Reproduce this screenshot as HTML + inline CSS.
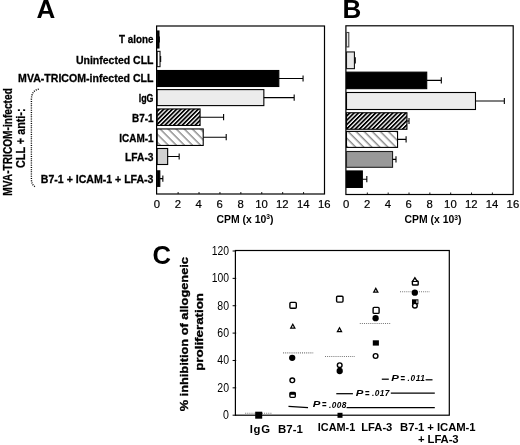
<!DOCTYPE html>
<html><head><meta charset="utf-8"><title>Figure</title>
<style>html,body{margin:0;padding:0;background:#fff;}body{width:520px;height:445px;overflow:hidden;font-family:"Liberation Sans",sans-serif;}svg{display:block;filter:blur(0.35px);}text{font-family:"Liberation Sans",sans-serif;fill:#000;}</style>
</head><body>
<svg width="520" height="445" viewBox="0 0 520 445">
<defs>
<pattern id="h1" width="3.05" height="3.05" patternUnits="userSpaceOnUse" patternTransform="rotate(-45)"><rect width="3.05" height="3.05" fill="#fff"/><rect width="3.05" height="1.75" fill="#000"/></pattern>
<pattern id="h2" width="5.7" height="5.7" patternUnits="userSpaceOnUse" patternTransform="rotate(45)"><rect width="5.7" height="5.7" fill="#fff"/><rect width="5.7" height="1.45" fill="#8c8c8c"/></pattern>
</defs>
<rect width="520" height="445" fill="#fff"/>
<text x="36.4" y="17.8" font-size="26" text-anchor="start" font-weight="bold" font-style="normal" >A</text>
<text x="342.5" y="17.8" font-size="26" text-anchor="start" font-weight="bold" font-style="normal" >B</text>
<text x="152.4" y="263.6" font-size="25.6" text-anchor="start" font-weight="bold" font-style="normal" >C</text>
<rect x="156.6" y="26" width="167.9" height="168" fill="none" stroke="#000" stroke-width="1.2"/>
<rect x="157.2" y="31.0" width="1.78" height="17" fill="#000" stroke="#000" stroke-width="1.1"/>
<path d="M158.98 39.5H159.29M159.29 36.4V42.6" stroke="#000" stroke-width="1.1" fill="none"/>
<rect x="157.2" y="51.35" width="2.82" height="15.3" fill="#fff" stroke="#111" stroke-width="1.1"/>
<path d="M160.02 59H160.65M160.65 55.9V62.1" stroke="#000" stroke-width="1.1" fill="none"/>
<rect x="157.2" y="70.5" width="121.61" height="16" fill="#000" stroke="#000" stroke-width="1.1"/>
<path d="M278.81 78.5H303.06M303.06 75.4V81.6" stroke="#000" stroke-width="1.1" fill="none"/>
<rect x="157.2" y="89.6" width="106.65" height="16" fill="#ececec" stroke="#000" stroke-width="1.1"/>
<path d="M263.85 97.6H294.18M294.18 94.5V100.69999999999999" stroke="#000" stroke-width="1.1" fill="none"/>
<rect x="157.2" y="108.95" width="42.87" height="16.5" fill="url(#h1)" stroke="#000" stroke-width="1.1"/>
<path d="M200.07 117.2H223.60M223.60 114.10000000000001V120.3" stroke="#000" stroke-width="1.1" fill="none"/>
<rect x="157.2" y="128.95" width="46.01" height="16.5" fill="url(#h2)" stroke="#000" stroke-width="1.1"/>
<path d="M203.21 137.2H226.21M226.21 134.1V140.29999999999998" stroke="#000" stroke-width="1.1" fill="none"/>
<rect x="157.2" y="148.5" width="10.46" height="16" fill="#d2d2d2" stroke="#000" stroke-width="1.1"/>
<path d="M167.66 156.5H179.16M179.16 153.4V159.6" stroke="#000" stroke-width="1.1" fill="none"/>
<rect x="157.2" y="170.85" width="2.61" height="15.5" fill="#000" stroke="#000" stroke-width="1.1"/>
<path d="M159.81 178.6H162.85M162.85 175.5V181.7" stroke="#000" stroke-width="1.1" fill="none"/>
<text x="156.90" y="207.7" font-size="11.3" text-anchor="middle" font-weight="normal" font-style="normal" stroke="#000" stroke-width="0.2">0</text>
<path d="M178.11 194v-2" stroke="#000" stroke-width="0.9"/>
<text x="177.81" y="207.7" font-size="11.3" text-anchor="middle" font-weight="normal" font-style="normal" stroke="#000" stroke-width="0.2">2</text>
<path d="M199.02 194v-2" stroke="#000" stroke-width="0.9"/>
<text x="198.72" y="207.7" font-size="11.3" text-anchor="middle" font-weight="normal" font-style="normal" stroke="#000" stroke-width="0.2">4</text>
<path d="M219.94 194v-2" stroke="#000" stroke-width="0.9"/>
<text x="219.64" y="207.7" font-size="11.3" text-anchor="middle" font-weight="normal" font-style="normal" stroke="#000" stroke-width="0.2">6</text>
<path d="M240.85 194v-2" stroke="#000" stroke-width="0.9"/>
<text x="240.55" y="207.7" font-size="11.3" text-anchor="middle" font-weight="normal" font-style="normal" stroke="#000" stroke-width="0.2">8</text>
<path d="M261.76 194v-2" stroke="#000" stroke-width="0.9"/>
<text x="261.46" y="207.7" font-size="11.3" text-anchor="middle" font-weight="normal" font-style="normal" stroke="#000" stroke-width="0.2">10</text>
<path d="M282.68 194v-2" stroke="#000" stroke-width="0.9"/>
<text x="282.38" y="207.7" font-size="11.3" text-anchor="middle" font-weight="normal" font-style="normal" stroke="#000" stroke-width="0.2">12</text>
<path d="M303.59 194v-2" stroke="#000" stroke-width="0.9"/>
<text x="303.29" y="207.7" font-size="11.3" text-anchor="middle" font-weight="normal" font-style="normal" stroke="#000" stroke-width="0.2">14</text>
<text x="324.20" y="207.7" font-size="11.3" text-anchor="middle" font-weight="normal" font-style="normal" stroke="#000" stroke-width="0.2">16</text>
<rect x="345.9" y="25.8" width="167.30000000000007" height="168.7" fill="none" stroke="#000" stroke-width="1.2"/>
<rect x="346.5" y="32.5" width="2.29" height="14.4" fill="#f4f4f4" stroke="#444" stroke-width="1.1"/>
<rect x="346.5" y="51.949999999999996" width="7.92" height="16.7" fill="#e8e8e8" stroke="#111" stroke-width="1.1"/>
<path d="M354.42 60.3H355.25M355.25 57.199999999999996V63.4" stroke="#000" stroke-width="1.1" fill="none"/>
<rect x="346.5" y="72.15" width="80.22" height="16.5" fill="#000" stroke="#000" stroke-width="1.1"/>
<path d="M426.72 80.4H441.31M441.31 77.30000000000001V83.5" stroke="#000" stroke-width="1.1" fill="none"/>
<rect x="346.5" y="92.5" width="128.98" height="17" fill="#ececec" stroke="#000" stroke-width="1.1"/>
<path d="M475.48 101H504.34M504.34 97.9V104.1" stroke="#000" stroke-width="1.1" fill="none"/>
<rect x="346.5" y="112.75" width="60.43" height="16.5" fill="url(#h1)" stroke="#000" stroke-width="1.1"/>
<path d="M406.93 121H409.01M409.01 117.9V124.1" stroke="#000" stroke-width="1.1" fill="none"/>
<rect x="346.5" y="131.4" width="51.05" height="16" fill="url(#h2)" stroke="#000" stroke-width="1.1"/>
<path d="M397.55 139.4H406.10M406.10 136.3V142.5" stroke="#000" stroke-width="1.1" fill="none"/>
<rect x="346.5" y="151.5" width="46.05" height="15.8" fill="#999" stroke="#222" stroke-width="1.1"/>
<path d="M392.55 159.4H395.99M395.99 156.3V162.5" stroke="#000" stroke-width="1.1" fill="none"/>
<rect x="346.5" y="170.95" width="15.84" height="16.5" fill="#000" stroke="#000" stroke-width="1.1"/>
<path d="M362.34 179.2H366.82M366.82 176.1V182.29999999999998" stroke="#000" stroke-width="1.1" fill="none"/>
<text x="346.20" y="208.2" font-size="11.3" text-anchor="middle" font-weight="normal" font-style="normal" stroke="#000" stroke-width="0.2">0</text>
<path d="M367.34 194.5v-2" stroke="#000" stroke-width="0.9"/>
<text x="367.04" y="208.2" font-size="11.3" text-anchor="middle" font-weight="normal" font-style="normal" stroke="#000" stroke-width="0.2">2</text>
<path d="M388.18 194.5v-2" stroke="#000" stroke-width="0.9"/>
<text x="387.88" y="208.2" font-size="11.3" text-anchor="middle" font-weight="normal" font-style="normal" stroke="#000" stroke-width="0.2">4</text>
<path d="M409.01 194.5v-2" stroke="#000" stroke-width="0.9"/>
<text x="408.71" y="208.2" font-size="11.3" text-anchor="middle" font-weight="normal" font-style="normal" stroke="#000" stroke-width="0.2">6</text>
<path d="M429.85 194.5v-2" stroke="#000" stroke-width="0.9"/>
<text x="429.55" y="208.2" font-size="11.3" text-anchor="middle" font-weight="normal" font-style="normal" stroke="#000" stroke-width="0.2">8</text>
<path d="M450.69 194.5v-2" stroke="#000" stroke-width="0.9"/>
<text x="450.39" y="208.2" font-size="11.3" text-anchor="middle" font-weight="normal" font-style="normal" stroke="#000" stroke-width="0.2">10</text>
<path d="M471.53 194.5v-2" stroke="#000" stroke-width="0.9"/>
<text x="471.23" y="208.2" font-size="11.3" text-anchor="middle" font-weight="normal" font-style="normal" stroke="#000" stroke-width="0.2">12</text>
<path d="M492.36 194.5v-2" stroke="#000" stroke-width="0.9"/>
<text x="492.06" y="208.2" font-size="11.3" text-anchor="middle" font-weight="normal" font-style="normal" stroke="#000" stroke-width="0.2">14</text>
<text x="512.90" y="208.2" font-size="11.3" text-anchor="middle" font-weight="normal" font-style="normal" stroke="#000" stroke-width="0.2">16</text>
<text x="245" y="222.8" font-size="10.6" font-weight="bold" text-anchor="middle" textLength="57" lengthAdjust="spacingAndGlyphs">CPM (x 10<tspan font-size="6.8" dy="-3.6">3</tspan><tspan dy="3.6">)</tspan></text>
<text x="433" y="223.2" font-size="10.6" font-weight="bold" text-anchor="middle" textLength="57" lengthAdjust="spacingAndGlyphs">CPM (x 10<tspan font-size="6.8" dy="-3.6">3</tspan><tspan dy="3.6">)</tspan></text>
<text x="153.5" y="43.0" font-size="11.6" text-anchor="end" font-weight="bold" font-style="normal" textLength="34.4" lengthAdjust="spacingAndGlyphs" stroke="#000" stroke-width="0.3">T alone</text>
<text x="153.5" y="64.39999999999999" font-size="11.6" text-anchor="end" font-weight="bold" font-style="normal" textLength="77.6" lengthAdjust="spacingAndGlyphs" stroke="#000" stroke-width="0.3">Uninfected CLL</text>
<text x="153.5" y="81.89999999999999" font-size="11.6" text-anchor="end" font-weight="bold" font-style="normal" textLength="135.4" lengthAdjust="spacingAndGlyphs" stroke="#000" stroke-width="0.3">MVA-TRICOM-infected CLL</text>
<text x="153.5" y="101.5" font-size="11.6" text-anchor="end" font-weight="bold" font-style="normal" textLength="14.8" lengthAdjust="spacingAndGlyphs" stroke="#000" stroke-width="0.3">IgG</text>
<text x="153.5" y="122.1" font-size="11.6" text-anchor="end" font-weight="bold" font-style="normal" textLength="21.5" lengthAdjust="spacingAndGlyphs" stroke="#000" stroke-width="0.3">B7-1</text>
<text x="153.5" y="141.7" font-size="11.6" text-anchor="end" font-weight="bold" font-style="normal" textLength="34.2" lengthAdjust="spacingAndGlyphs" stroke="#000" stroke-width="0.3">ICAM-1</text>
<text x="153.5" y="161.0" font-size="11.6" text-anchor="end" font-weight="bold" font-style="normal" textLength="28.4" lengthAdjust="spacingAndGlyphs" stroke="#000" stroke-width="0.3">LFA-3</text>
<text x="153.5" y="182.5" font-size="11.6" text-anchor="end" font-weight="bold" font-style="normal" textLength="112.7" lengthAdjust="spacingAndGlyphs" stroke="#000" stroke-width="0.3">B7-1 + ICAM-1 + LFA-3</text>
<text transform="translate(11.5,141.9) rotate(-90)" font-size="12" font-weight="bold" stroke="#000" stroke-width="0.25" text-anchor="middle" textLength="107.5" lengthAdjust="spacingAndGlyphs">MVA-TRICOM-infected</text>
<text transform="translate(25.4,138.2) rotate(-90)" font-size="12" font-weight="bold" stroke="#000" stroke-width="0.25" text-anchor="middle" textLength="59.5" lengthAdjust="spacingAndGlyphs">CLL + anti-:</text>
<path d="M38.8 89.1 Q31.4 90.5 31.4 100 V179 Q31.4 185 35.6 187" fill="none" stroke="#000" stroke-width="1.4" stroke-dasharray="1 1.2"/>
<rect x="235.4" y="250.5" width="213.9" height="164.7" fill="none" stroke="#000" stroke-width="1.2"/>
<path d="M232.6 415.20h3.6" stroke="#000" stroke-width="1"/>
<text x="229.0" y="419.10" font-size="12" text-anchor="end" font-weight="normal" font-style="normal" textLength="5.9" lengthAdjust="spacingAndGlyphs" >0</text>
<path d="M232.6 387.83h3.6" stroke="#000" stroke-width="1"/>
<text x="229.0" y="391.73" font-size="12" text-anchor="end" font-weight="normal" font-style="normal" textLength="11.7" lengthAdjust="spacingAndGlyphs" >20</text>
<path d="M232.6 360.47h3.6" stroke="#000" stroke-width="1"/>
<text x="229.0" y="364.37" font-size="12" text-anchor="end" font-weight="normal" font-style="normal" textLength="11.7" lengthAdjust="spacingAndGlyphs" >40</text>
<path d="M232.6 333.10h3.6" stroke="#000" stroke-width="1"/>
<text x="229.0" y="337.00" font-size="12" text-anchor="end" font-weight="normal" font-style="normal" textLength="11.7" lengthAdjust="spacingAndGlyphs" >60</text>
<path d="M232.6 305.73h3.6" stroke="#000" stroke-width="1"/>
<text x="229.0" y="309.63" font-size="12" text-anchor="end" font-weight="normal" font-style="normal" textLength="11.7" lengthAdjust="spacingAndGlyphs" >80</text>
<path d="M232.6 278.37h3.6" stroke="#000" stroke-width="1"/>
<text x="229.0" y="282.27" font-size="12" text-anchor="end" font-weight="normal" font-style="normal" textLength="17.3" lengthAdjust="spacingAndGlyphs" >100</text>
<path d="M232.6 251.00h3.6" stroke="#000" stroke-width="1"/>
<text x="229.0" y="254.90" font-size="12" text-anchor="end" font-weight="normal" font-style="normal" textLength="17.3" lengthAdjust="spacingAndGlyphs" >120</text>
<text transform="translate(187.5,334.2) rotate(-90)" font-size="11.8" font-weight="bold" stroke="#000" stroke-width="0.35" text-anchor="middle" textLength="154.3" lengthAdjust="spacingAndGlyphs">% inhibition of allogeneic</text>
<text transform="translate(203.2,331.9) rotate(-90)" font-size="11.8" font-weight="bold" stroke="#000" stroke-width="0.35" text-anchor="middle" textLength="77.8" lengthAdjust="spacingAndGlyphs">proliferation</text>
<path d="M245.2 413.3H272.5" stroke="#777" stroke-width="1.1" stroke-dasharray="1 1.1"/>
<rect x="255.20" y="411.70" width="7" height="7" fill="#000"/>
<rect x="289.90" y="302.40" width="6.4" height="5.8" rx="1" fill="#fff" stroke="#000" stroke-width="1.4"/>
<polygon points="292.80,322.95 295.90,328.65 289.70,328.65" fill="#000"/><polygon points="292.80,325.54 293.82,327.42 291.78,327.42" fill="#fff"/>
<path d="M283.1 352.9H313.2" stroke="#777" stroke-width="1.1" stroke-dasharray="1 1.1"/>
<circle cx="292.2" cy="357.8" r="3.15" fill="#000"/>
<circle cx="292.3" cy="380.3" r="2.35" fill="#fff" stroke="#000" stroke-width="1.4"/>
<rect x="289.90" y="392.45" width="5.4" height="4.9" rx="1" fill="#fff" stroke="#000" stroke-width="1.4"/>
<rect x="289.9" y="392.4" width="5.4" height="2.4" fill="#000"/>
<rect x="336.60" y="296.30" width="6.4" height="5.8" rx="1" fill="#fff" stroke="#000" stroke-width="1.4"/>
<polygon points="339.50,326.45 342.60,332.15 336.40,332.15" fill="#000"/><polygon points="339.50,329.04 340.52,330.92 338.48,330.92" fill="#fff"/>
<path d="M325 356.5H355" stroke="#777" stroke-width="1.1" stroke-dasharray="1 1.1"/>
<circle cx="339.7" cy="365.2" r="2.35" fill="#fff" stroke="#000" stroke-width="1.4"/>
<circle cx="339.7" cy="371.0" r="3.15" fill="#000"/>
<rect x="337.50" y="412.80" width="5" height="5" fill="#000"/>
<polygon points="375.80,287.05 378.90,292.75 372.70,292.75" fill="#000"/><polygon points="375.80,289.64 376.82,291.52 374.78,291.52" fill="#fff"/>
<rect x="373.10" y="307.40" width="6.0" height="6.0" rx="1" fill="#fff" stroke="#000" stroke-width="1.4"/>
<circle cx="375.6" cy="318.2" r="3.15" fill="#000"/>
<path d="M359.8 323.5H390.4" stroke="#777" stroke-width="1.1" stroke-dasharray="1 1.1"/>
<rect x="372.8" y="340.3" width="6.1" height="5.3" fill="#000"/>
<circle cx="375.6" cy="356" r="2.35" fill="#fff" stroke="#000" stroke-width="1.4"/>
<rect x="412.4" y="280.9" width="5.8" height="4.1" rx="0.8" fill="#fff" stroke="#000" stroke-width="1.4"/>
<polygon points="414.90,276.50 418.40,282.10 411.40,282.10" fill="#000"/><polygon points="414.90,278.93 416.16,280.94 413.64,280.94" fill="#fff"/>
<path d="M400 291.8H429.8" stroke="#777" stroke-width="1.1" stroke-dasharray="1 1.1"/>
<circle cx="414.8" cy="292.7" r="3.15" fill="#000"/>
<rect x="412" y="299.3" width="6.4" height="5" fill="#000"/><rect x="416.4" y="300.4" width="1.1" height="2.8" fill="#fff"/>
<circle cx="414.9" cy="305.7" r="2.35" fill="#fff" stroke="#000" stroke-width="1.4"/>
<path d="M288.5 406.4L308 407.6" stroke="#000" stroke-width="1.25"/>
<text x="312.7" y="407.1" font-size="9.5" font-style="italic" font-weight="bold" textLength="7.6" lengthAdjust="spacingAndGlyphs">P</text>
<text x="322.09999999999997" y="408.1" font-size="11" font-weight="bold" textLength="4.6" lengthAdjust="spacingAndGlyphs">=</text>
<text x="329.09999999999997" y="407.5" font-size="8.3" font-style="italic" font-weight="bold" textLength="17.2" lengthAdjust="spacing">.008</text>
<path d="M346.6 407.5H434.8" stroke="#000" stroke-width="1.25"/>
<path d="M336.3 393.7H352.9" stroke="#000" stroke-width="1.25"/>
<text x="355.7" y="395.7" font-size="9.5" font-style="italic" font-weight="bold" textLength="7.6" lengthAdjust="spacingAndGlyphs">P</text>
<text x="365.09999999999997" y="396.7" font-size="11" font-weight="bold" textLength="4.6" lengthAdjust="spacingAndGlyphs">=</text>
<text x="372.09999999999997" y="395.7" font-size="8.3" font-style="italic" font-weight="bold" textLength="17.2" lengthAdjust="spacing">.017</text>
<path d="M390.8 393.2H434.8" stroke="#000" stroke-width="1.25"/>
<path d="M381.8 379.2H388.8" stroke="#000" stroke-width="1.25"/>
<text x="391.2" y="380.5" font-size="9.5" font-style="italic" font-weight="bold" textLength="7.6" lengthAdjust="spacingAndGlyphs">P</text>
<text x="400.59999999999997" y="381.5" font-size="11" font-weight="bold" textLength="4.6" lengthAdjust="spacingAndGlyphs">=</text>
<text x="407.59999999999997" y="380.5" font-size="8.3" font-style="italic" font-weight="bold" textLength="17.2" lengthAdjust="spacing">.011</text>
<path d="M425.6 379.8H432.5" stroke="#000" stroke-width="1.25"/>
<text x="249.70" y="432.8" font-size="11.3" font-weight="bold" textLength="20.40" lengthAdjust="spacing">IgG</text>
<text x="278.10" y="432.8" font-size="11.3" font-weight="bold" textLength="24.80" lengthAdjust="spacingAndGlyphs">B7-1</text>
<text x="317.80" y="431.2" font-size="11.3" font-weight="bold" textLength="37.50" lengthAdjust="spacingAndGlyphs">ICAM-1</text>
<text x="361.30" y="431.3" font-size="11.3" font-weight="bold" textLength="31.05" lengthAdjust="spacingAndGlyphs">LFA-3</text>
<text x="400.05" y="431.3" font-size="11.3" font-weight="bold" textLength="75.55" lengthAdjust="spacing">B7-1 + ICAM-1</text>
<text x="418.05" y="443.3" font-size="11.3" font-weight="bold" textLength="40.55" lengthAdjust="spacing">+ LFA-3</text>
</svg></body></html>
